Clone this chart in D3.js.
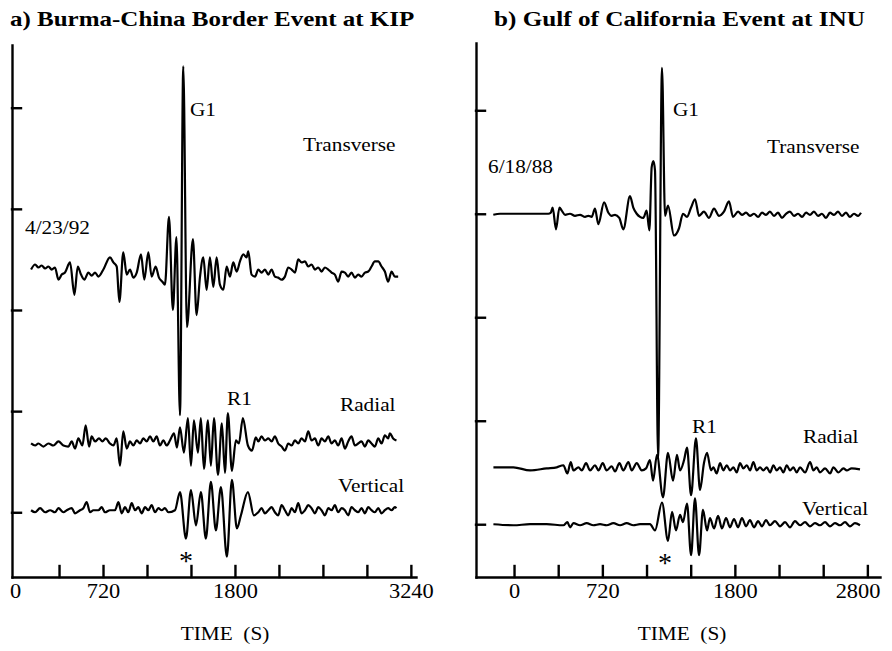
<!DOCTYPE html>
<html>
<head>
<meta charset="utf-8">
<script src="https://cdn.jsdelivr.net/npm/d3@7"></script>
<style>
  body { margin: 0; background: #fff; }
  svg { display: block; }
  text { font-family: "Liberation Serif", "Times New Roman", Times, serif; fill: #000; }
</style>
</head>
<body>
<svg id="chart" width="892" height="651"></svg>
<script>
// ---------- Data: three-component seismograms, [time (s), relative amplitude] ----------
const components = ["Transverse", "Radial", "Vertical"];

// a) Burma-China border event recorded at KIP, 4/23/92
const eventA = "4/23/92";
const offsetsA = [340, 168, 102];          // trace baselines, amplitude units
const aTransverse = [[131,0],[164,5],[191,2],[218,4],[246,1],[273,3],[300,0],[327,2],[355,-10],[382,-5],[409,-3],[450,7],[486,-25],[513,3],[540,-5],[567,-10],[600,-3],[627,-6],[655,-3],[682,-7],[723,0],[777,12],[805,7],[832,3],[854,-32],[886,17],[914,-5],[941,0],[968,-8],[996,-3],[1031,15],[1058,-10],[1091,17],[1118,-7],[1151,3],[1178,-8],[1206,-12],[1227,-15],[1260,52],[1292,-40],[1321,32],[1350,-144],[1377,201],[1407,-57],[1456,30],[1486,-45],[1514,-7],[1541,12],[1568,-20],[1595,12],[1623,-17],[1650,12],[1677,-15],[1705,-20],[1732,3],[1759,-7],[1786,7],[1814,-2],[1841,8],[1868,15],[1895,12],[1909,18],[1936,-5],[1964,-7],[1991,0],[2018,-3],[2045,0],[2073,-5],[2100,0],[2127,-7],[2154,-8],[2182,-10],[2209,-7],[2236,2],[2264,0],[2291,-3],[2318,10],[2345,7],[2373,8],[2400,3],[2427,5],[2455,0],[2482,2],[2509,-2],[2536,2],[2564,0],[2591,-3],[2618,-5],[2645,-12],[2673,-2],[2700,-3],[2727,-7],[2754,-3],[2782,-8],[2809,-5],[2836,-7],[2864,-3],[2891,-2],[2918,3],[2945,8],[2973,8],[3000,3],[3027,-2],[3054,-12],[3082,-2],[3109,-7],[3136,-7]];
const aRadial = [[131,0],[164,-2],[191,0],[232,-3],[273,0],[314,-2],[355,2],[396,-2],[436,-3],[464,2],[491,-5],[518,5],[551,-2],[578,18],[606,-3],[627,7],[655,2],[687,5],[715,2],[742,5],[777,0],[805,-2],[832,5],[859,-22],[886,12],[914,-5],[941,2],[968,-2],[996,3],[1023,0],[1050,5],[1077,2],[1105,7],[1132,2],[1159,7],[1186,-2],[1214,3],[1241,-2],[1268,3],[1301,10],[1325,-4],[1350,16],[1382,-9],[1415,25],[1440,-22],[1464,23],[1497,-9],[1521,25],[1546,-25],[1579,23],[1603,-22],[1628,25],[1661,-31],[1693,20],[1718,-29],[1742,30],[1775,-27],[1808,3],[1832,0],[1865,25],[1906,-2],[1939,-7],[1971,6],[1991,2],[2018,7],[2045,3],[2073,5],[2100,2],[2127,7],[2154,0],[2182,-3],[2209,-7],[2236,0],[2264,-2],[2291,3],[2318,0],[2345,5],[2373,2],[2400,12],[2427,3],[2455,5],[2482,-2],[2509,5],[2536,2],[2564,7],[2591,0],[2618,3],[2645,-2],[2673,5],[2700,-5],[2727,2],[2754,7],[2782,-2],[2809,0],[2836,2],[2864,-3],[2891,3],[2918,0],[2945,-3],[2973,5],[3000,0],[3027,8],[3054,5],[3068,10],[3095,5],[3122,3]];
const aVertical = [[131,0],[164,-2],[205,2],[246,-2],[287,0],[327,-2],[355,2],[396,-2],[423,0],[464,2],[491,-3],[532,0],[559,2],[586,8],[614,-2],[641,0],[682,0],[709,3],[736,-2],[777,0],[818,0],[846,8],[873,-3],[900,3],[927,-2],[955,7],[982,0],[1009,3],[1036,-3],[1064,3],[1091,0],[1118,5],[1146,-2],[1173,2],[1200,0],[1227,2],[1255,-2],[1309,0],[1350,18],[1399,-28],[1440,20],[1481,-15],[1521,18],[1562,-28],[1603,28],[1644,-20],[1685,23],[1734,-46],[1775,30],[1816,-18],[1849,-5],[1906,18],[1955,-5],[1991,-2],[2018,2],[2045,-3],[2073,0],[2100,3],[2127,-2],[2154,-5],[2182,5],[2209,0],[2236,-5],[2264,2],[2291,-2],[2318,7],[2345,-3],[2373,0],[2400,5],[2427,2],[2455,-3],[2482,3],[2509,0],[2536,-5],[2564,2],[2591,0],[2618,5],[2645,-2],[2673,2],[2700,0],[2727,-5],[2754,3],[2782,0],[2809,-2],[2836,2],[2864,-3],[2891,3],[2918,0],[2945,-2],[2973,2],[3000,-3],[3027,0],[3054,2],[3082,0],[3109,3],[3122,2]];

// b) Gulf of California event recorded at INU, 6/18/88
const eventB = "6/18/88";
const offsetsB = [400, 155, 100];
const bTransverse = [[-169,-1],[-114,0],[-33,0],[49,0],[130,0],[212,0],[280,0],[299,1],[315,6],[342,-15],[370,6],[389,3],[416,-1],[456,0],[497,-2],[538,-1],[579,-3],[606,-2],[633,-3],[660,5],[687,-10],[734,11],[769,1],[796,-2],[823,-1],[858,-4],[891,-15],[945,17],[972,6],[1000,0],[1027,-3],[1054,-4],[1081,3],[1103,-16],[1122,45],[1136,51],[1149,42],[1174,-237],[1206,141],[1231,-2],[1255,8],[1304,-21],[1345,-14],[1377,0],[1410,-3],[1443,6],[1475,14],[1508,-2],[1548,2],[1589,-4],[1630,5],[1671,-2],[1711,2],[1752,12],[1785,-3],[1826,2],[1858,-1],[1891,1],[1923,-2],[1956,0],[1989,-3],[2021,1],[2054,-1],[2086,2],[2119,-2],[2152,1],[2184,-4],[2217,0],[2249,2],[2282,-2],[2315,0],[2347,-3],[2380,1],[2412,-1],[2445,2],[2478,-2],[2510,0],[2543,-4],[2575,1],[2608,-1],[2641,2],[2673,-2],[2706,1],[2738,-3],[2771,0],[2804,-2],[2828,1]];
const bRadial = [[-168,0],[-5,0],[131,-3],[266,-1],[348,0],[402,2],[435,-6],[462,5],[484,-3],[525,0],[552,-3],[587,4],[620,-3],[660,2],[688,-3],[723,4],[755,-3],[796,1],[823,-4],[859,4],[891,-3],[932,5],[959,-3],[1000,4],[1041,-3],[1076,-1],[1108,7],[1133,-13],[1165,12],[1214,-29],[1255,14],[1296,-13],[1328,12],[1353,-3],[1386,7],[1410,19],[1443,-27],[1483,28],[1516,-22],[1548,4],[1573,14],[1606,-3],[1625,0],[1652,-6],[1679,4],[1706,-3],[1734,2],[1761,-3],[1788,0],[1815,-5],[1842,4],[1869,-1],[1897,2],[1924,-3],[1951,5],[1978,-3],[2005,0],[2032,-3],[2060,0],[2087,-5],[2114,2],[2141,-3],[2168,0],[2195,-5],[2223,2],[2250,-3],[2277,0],[2304,-5],[2331,0],[2372,-5],[2413,5],[2440,-3],[2467,0],[2494,-5],[2535,-1],[2576,-6],[2603,0],[2644,-5],[2685,-1],[2712,-3],[2752,-1],[2820,-2]];
const bVertical = [[-168,0],[-5,-1],[131,0],[266,0],[402,-1],[435,2],[457,-3],[484,1],[538,-1],[592,1],[647,-1],[701,0],[755,-1],[810,1],[864,-1],[918,1],[973,-1],[1027,0],[1082,0],[1108,0],[1149,-6],[1206,21],[1255,-16],[1288,12],[1320,-6],[1353,9],[1377,2],[1410,20],[1443,-30],[1475,25],[1508,-30],[1540,14],[1573,-6],[1597,6],[1630,-4],[1663,8],[1695,-4],[1728,6],[1760,-3],[1793,5],[1826,-3],[1858,6],[1891,-2],[1923,4],[1956,-3],[1989,3],[2021,-2],[2054,4],[2086,-1],[2127,3],[2168,-2],[2209,2],[2249,-3],[2290,3],[2331,-1],[2372,2],[2412,-2],[2453,1],[2494,-1],[2535,2],[2575,-2],[2616,1],[2657,-1],[2698,2],[2738,-2],[2779,1],[2820,-1]];

// Axis ticks and labels
const xTicksA = [360, 720, 1080, 1440, 1800, 2160, 2520, 2880, 3240];
const xLabelsA = [0, 720, 1800, 3240];
const xTicksB = [0, 360, 720, 1080, 1440, 1800, 2160, 2520, 2880];
const xLabelsB = [0, 720, 1800, 2800];
const yTicks = [100, 200, 300, 400, 500];

// ---------- Drawing ----------
const svg = d3.select("#chart");
const SX = 1.12;   // lettering is set slightly wide

function label(g, txt, x, y, opts = {}) {
  return g.append("text")
    .attr("transform", `translate(${x},${y}) scale(${opts.sx || SX},1)`)
    .attr("text-anchor", opts.anchor || "start")
    .attr("font-size", opts.size || 19)
    .attr("font-weight", opts.bold ? "bold" : "normal")
    .text(txt);
}

function panel(cfg) {
  const g = svg.append("g");
  const x = d3.scaleLinear().domain(cfg.xDomain).range(cfg.xRange);
  const y = d3.scaleLinear().domain(cfg.yDomain).range(cfg.yRange);

  // left axis with inward ticks
  const ya = g.append("g")
    .attr("transform", `translate(${cfg.xRange[0]},0)`)
    .call(d3.axisRight(y).tickValues(yTicks).tickSize(9).tickSizeOuter(0).tickFormat(""));
  // bottom axis with upward ticks
  const xa = g.append("g")
    .attr("transform", `translate(0,${cfg.yRange[0]})`)
    .call(d3.axisTop(x).tickValues(cfg.xTicks).tickSize(11).tickSizeOuter(0).tickFormat(""));
  [ya, xa].forEach(a => {
    a.selectAll("path, line").attr("stroke", "#000").attr("stroke-width", 2.4).attr("stroke-linecap", "square");
  });

  // time labels
  const xl = g.append("g")
    .attr("transform", `translate(0,${cfg.yRange[0]})`)
    .call(d3.axisBottom(x).tickValues(cfg.xLabels).tickSize(0).tickPadding(7).tickFormat(d3.format("d")));
  xl.select(".domain").remove();
  xl.attr("font-family", null).attr("font-size", null);
  xl.selectAll("text")
    .attr("font-size", 20)
    .attr("transform", `scale(${SX},1)`);

  // traces
  const line = d3.line().x(d => x(d[0])).curve(d3.curveMonotoneX);
  cfg.traces.forEach((tr, i) => {
    g.append("path")
      .datum(tr)
      .attr("fill", "none")
      .attr("stroke", "#000")
      .attr("stroke-width", 2.2)
      .attr("stroke-linejoin", "round")
      .attr("d", line.y(d => y(cfg.offsets[i] + d[1])));
  });
  return g;
}

const gA = panel({
  xDomain: [-25, 3282], xRange: [12, 416],
  yDomain: [36, 562], yRange: [577, 45],
  xTicks: xTicksA, xLabels: xLabelsA,
  traces: [aTransverse, aRadial, aVertical], offsets: offsetsA
});
const gB = panel({
  xDomain: [-310, 2983], xRange: [476, 880],
  yDomain: [49, 565], yRange: [577, 43],
  xTicks: xTicksB, xLabels: xLabelsB,
  traces: [bTransverse, bRadial, bVertical], offsets: offsetsB
});

// panel a annotations
label(gA, "a) Burma-China Border Event at KIP", 10, 26, { size: 21, bold: true, sx: 1.19 });
label(gA, "G1", 190, 116);
label(gA, components[0], 303, 151);
label(gA, eventA, 25, 234);
label(gA, "R1", 227, 405);
label(gA, components[1], 340, 411);
label(gA, components[2], 338, 492);
label(gA, "*", 186, 570, { anchor: "middle", size: 28, sx: 1 });
label(gA, "TIME\u00A0 (S)", 225, 640, { anchor: "middle" });

// panel b annotations
label(gB, "b) Gulf of California Event at INU", 494, 26, { size: 21, bold: true, sx: 1.2 });
label(gB, "G1", 673, 116);
label(gB, components[0], 767, 153);
label(gB, eventB, 488, 173);
label(gB, "R1", 692, 433);
label(gB, components[1], 803, 443);
label(gB, components[2], 802, 515);
label(gB, "*", 665, 572, { anchor: "middle", size: 28, sx: 1 });
label(gB, "TIME\u00A0 (S)", 682, 640, { anchor: "middle" });
</script>
</body>
</html>
